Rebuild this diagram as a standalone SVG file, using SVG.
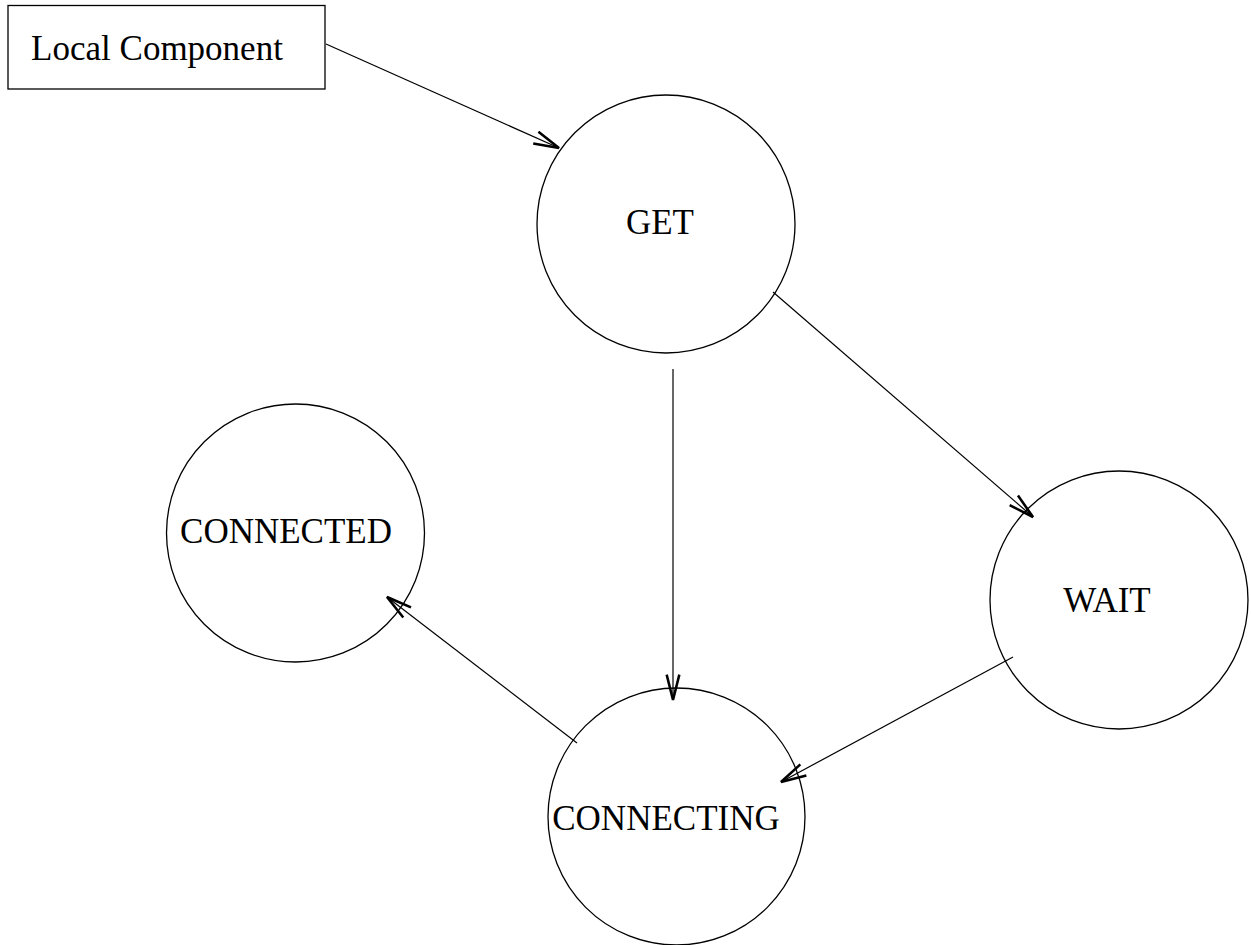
<svg xmlns="http://www.w3.org/2000/svg" width="1251" height="945" viewBox="0 0 1251 945">
  <style>
    .state { fill: #ffffff; stroke: #000000; stroke-width: 1.3; }
    .label { font-family: "Liberation Serif", "Times New Roman", serif; font-size: 35px; fill: #000000; text-anchor: middle; }
    .edge { fill: none; stroke: #000000; stroke-width: 1.2; marker-end: url(#arrow); }
  </style>
  <defs>
    <!-- open stick arrowhead, tip at the path end -->
    <marker id="arrow" markerUnits="userSpaceOnUse" markerWidth="30" markerHeight="20" viewBox="-24 -8 26 16" refX="0" refY="0" orient="auto">
      <path d="M-22,-5.5 L0,0 L-22,5.5" fill="none" stroke="#000000" stroke-width="2.2" stroke-linejoin="miter"/>
    </marker>
  </defs>
  <rect width="1251" height="945" fill="#ffffff"/>

  <g id="local-component">
    <rect class="state" x="8" y="5.5" width="317" height="83.5"/>
    <text class="label" x="157" y="60">Local Component</text>
  </g>

  <g id="get">
    <circle class="state" cx="666" cy="224" r="129"/>
    <text class="label" x="660" y="234">GET</text>
  </g>

  <g id="connected">
    <circle class="state" cx="295.5" cy="533" r="129"/>
    <text class="label" x="286" y="543">CONNECTED</text>
  </g>

  <g id="wait">
    <circle class="state" cx="1119" cy="600" r="129"/>
    <text class="label" x="1107" y="612">WAIT</text>
  </g>

  <g id="connecting">
    <circle class="state" cx="676.5" cy="816.5" r="128.5"/>
    <text class="label" x="666" y="830">CONNECTING</text>
  </g>

  <g id="connectors">
    <line class="edge" x1="326" y1="44" x2="559" y2="148"/>
    <line class="edge" x1="773" y1="292" x2="1033" y2="517"/>
    <line class="edge" x1="673" y1="369" x2="673" y2="700"/>
    <line class="edge" x1="1013" y1="657" x2="781" y2="782"/>
    <line class="edge" x1="577" y1="743" x2="387" y2="597"/>
  </g>
</svg>
